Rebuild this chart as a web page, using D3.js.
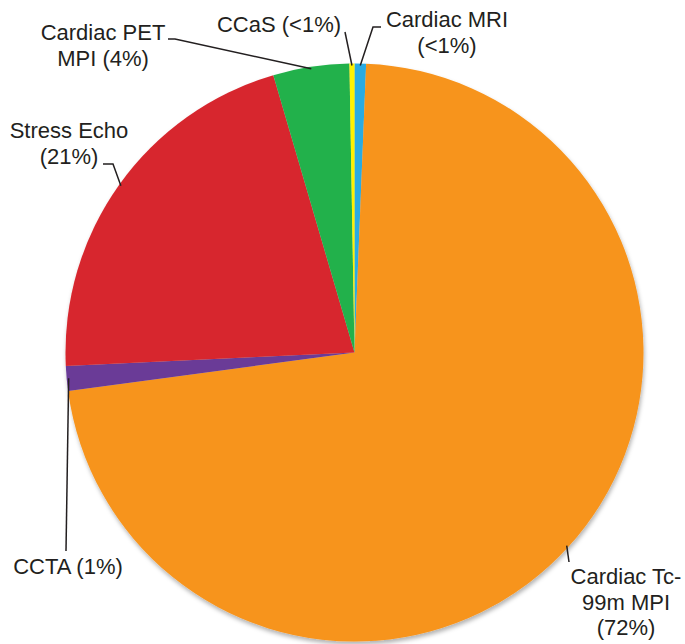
<!DOCTYPE html>
<html>
<head>
<meta charset="utf-8">
<script src="https://cdn.jsdelivr.net/npm/d3@7"></script>
<style>
  body { margin: 0; background: #fff; }
  text { font-family: "Liberation Sans", Arial, Helvetica, sans-serif; font-size: 22px; fill: #231f20; }
</style>
</head>
<body>
<svg id="chart" width="685" height="644"></svg>
<script>
// modality shares (percent), clockwise from 12 o'clock
var categories = ["Cardiac MRI", "Cardiac Tc-99m MPI", "CCTA", "Stress Echo", "Cardiac PET MPI", "CCaS"];
var shares = [0.64, 72.2, 1.39, 21.2, 4.25, 0.28];
var pctLabels = ["<1%", "72%", "1%", "21%", "4%", "<1%"];
var colors = ["#29abe2", "#f7941d", "#6a3a97", "#d7282f", "#22b14c", "#fff200"];

// how each label is broken into lines
var labelLines = [
  ["Cardiac MRI", "(<1%)"],
  ["Cardiac Tc-", "99m MPI", "(72%)"],
  ["CCTA (1%)"],
  ["Stress Echo", "(21%)"],
  ["Cardiac PET", "MPI (4%)"],
  ["CCaS (<1%)"]
];

// label placement: text centre x, first baseline, leader bend points
var labelPos = [
  { x: 447, y: 27,  pts: [[373, 27], [381, 27]] },
  { x: 626, y: 584, pts: [[569, 562]] },
  { x: 68,  y: 574, pts: [[66, 551]] },
  { x: 69,  y: 138, pts: [[113, 164], [103, 164]] },
  { x: 103, y: 40,  pts: [[175, 39], [168, 39]] },
  { x: 279, y: 32,  pts: [[345, 32]] }
];

var svg = d3.select("#chart"),
    cx = 354.5, cy = 352.5, r = 289;

var defs = svg.append("defs");
var f = defs.append("filter").attr("id", "shadow")
  .attr("x", "-10%").attr("y", "-10%").attr("width", "120%").attr("height", "120%");
f.append("feDropShadow").attr("dx", 1).attr("dy", 3).attr("stdDeviation", 2)
  .attr("flood-color", "#000").attr("flood-opacity", 0.3);

var data = categories.map(function(c, i) {
  return { name: c, value: shares[i], i: i };
});

var pie = d3.pie().sort(null).value(function(d) { return d.value; });
var arcs = pie(data);
var arc = d3.arc().innerRadius(0).outerRadius(r);

var g = svg.append("g").attr("transform", "translate(" + cx + "," + cy + ")");

g.append("g").attr("filter", "url(#shadow)")
  .selectAll("path")
  .data(arcs)
  .enter().append("path")
  .attr("d", arc)
  .attr("fill", function(d) { return colors[d.data.i]; });

// leader lines from the middle of each slice's rim
var line = d3.line();
svg.append("g")
  .selectAll("path")
  .data(arcs)
  .enter().append("path")
  .attr("fill", "none")
  .attr("stroke", "#231f20")
  .attr("stroke-width", 1.5)
  .attr("d", function(d) {
    var a = (d.startAngle + d.endAngle) / 2,
        rr = r - 2;
    var p0 = [cx + rr * Math.sin(a), cy - rr * Math.cos(a)];
    return line([p0].concat(labelPos[d.data.i].pts));
  });

var labels = svg.append("g")
  .selectAll("text")
  .data(data)
  .enter().append("text")
  .attr("text-anchor", "middle")
  .attr("x", function(d) { return labelPos[d.i].x; })
  .attr("y", function(d) { return labelPos[d.i].y; });

labels.selectAll("tspan")
  .data(function(d) { return labelLines[d.i].map(function(t) { return { t: t, p: labelPos[d.i] }; }); })
  .enter().append("tspan")
  .attr("x", function(d) { return d.p.x; })
  .attr("dy", function(d, j) { return j === 0 ? 0 : 25.5; })
  .text(function(d) { return d.t; });
</script>
</body>
</html>
